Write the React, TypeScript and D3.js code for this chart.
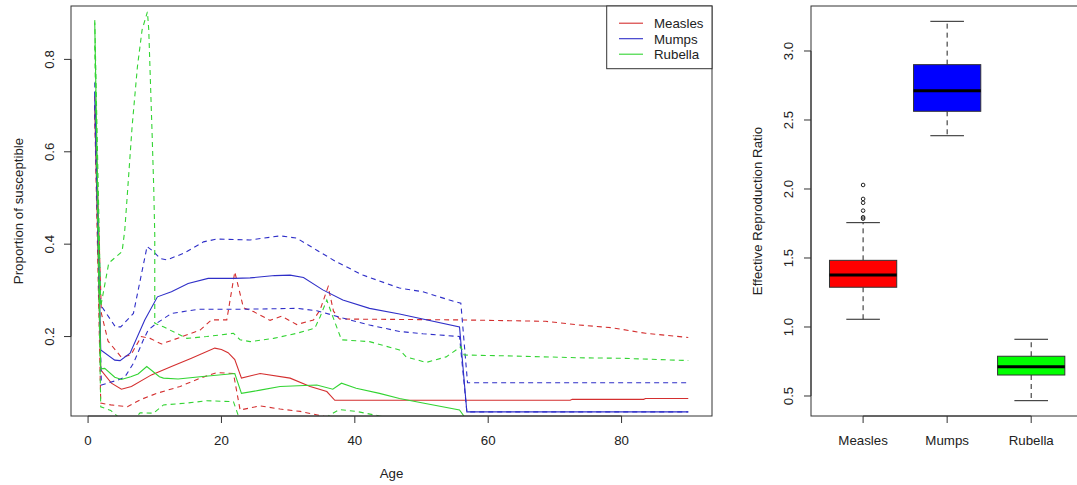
import React from "react";
import * as d3 from "d3";

// ---------- Left panel data: proportion susceptible by age ----------
type Pt = [number, number];

const measlesMean: Pt[] = [
  [1, 0.7], [1.9, 0.128], [3.5, 0.099], [5, 0.086], [6.5, 0.092], [9.5, 0.117], [12.5, 0.135],
  [15.5, 0.153], [19, 0.175], [20, 0.172], [21, 0.165], [22, 0.15], [23, 0.11], [25.8, 0.12],
  [30.3, 0.11], [33.3, 0.092], [35.8, 0.081], [37, 0.062], [72.3, 0.062], [72.6, 0.064],
  [83.3, 0.064], [83.6, 0.066], [90, 0.066],
];
const measlesHi: Pt[] = [
  [1, 0.72], [2, 0.25], [3, 0.19], [5, 0.155], [6.4, 0.16], [8, 0.2], [9.3, 0.196], [11, 0.184],
  [12.8, 0.193], [16.8, 0.214], [18.5, 0.236], [20.8, 0.236], [22, 0.34], [23.3, 0.262],
  [24.8, 0.254], [27.3, 0.235], [29, 0.244], [31.3, 0.226], [33.8, 0.236], [34.8, 0.258],
  [36, 0.308], [36.8, 0.255], [37.7, 0.238], [56, 0.236], [68.6, 0.233], [73.6, 0.225],
  [78.6, 0.219], [83.6, 0.207], [90, 0.198],
];
const measlesLo: Pt[] = [
  [1, 0.68], [1.9, 0.056], [3.4, 0.052], [5.9, 0.048], [7.8, 0.063], [10.3, 0.077], [13.8, 0.092],
  [16.8, 0.11], [19.3, 0.122], [21.8, 0.12], [22.8, 0.041], [25.8, 0.05], [28.8, 0.043],
  [31.8, 0.038], [35.2, 0.028], [38, 0.015], [90, 0.012],
];

const mumpsMean: Pt[] = [
  [1, 0.73], [1.9, 0.171], [4, 0.149], [4.8, 0.148], [6.3, 0.164], [8.5, 0.236], [10.4, 0.286],
  [12.5, 0.297], [15, 0.315], [18, 0.326], [22, 0.326], [24.3, 0.327], [28, 0.332], [30.3, 0.333],
  [32.3, 0.328], [35.2, 0.301], [38.2, 0.279], [42.2, 0.261], [46.7, 0.249], [55.7, 0.221],
  [56.8, 0.037], [90, 0.037],
];
const mumpsHi: Pt[] = [
  [1, 0.75], [1.9, 0.268], [4.1, 0.221], [4.9, 0.221], [6.8, 0.25], [8.85, 0.395], [9.8, 0.384],
  [10.8, 0.369], [11.8, 0.366], [14.3, 0.38], [17.3, 0.405], [19.3, 0.411], [24.3, 0.409],
  [28.8, 0.418], [31.3, 0.413], [34.3, 0.387], [37.2, 0.362], [41.2, 0.333], [46.7, 0.305],
  [50.2, 0.297], [54.2, 0.279], [55.9, 0.272], [56.9, 0.1], [90, 0.1],
];
const mumpsLo: Pt[] = [
  [1, 0.7], [2, 0.095], [4.5, 0.106], [5.5, 0.112], [6.8, 0.142], [8.3, 0.193], [9, 0.214],
  [10.3, 0.229], [12.5, 0.25], [16.5, 0.259], [22.4, 0.259], [27.3, 0.26], [31.3, 0.261],
  [34.3, 0.256], [38.2, 0.24], [42.2, 0.225], [46.7, 0.211], [50.2, 0.206], [55.7, 0.2],
  [56.8, 0.037], [90, 0.037],
];

const rubellaMean: Pt[] = [
  [1, 0.88], [1.9, 0.13], [2.5, 0.131], [4, 0.112], [5, 0.107], [6.4, 0.113], [7.5, 0.119],
  [8.8, 0.135], [10.7, 0.113], [11.3, 0.11], [13.5, 0.108], [16.8, 0.113], [22, 0.12], [23, 0.077],
  [25.8, 0.084], [28.8, 0.092], [34.3, 0.095], [36.7, 0.086], [38, 0.099], [40.2, 0.088],
  [43.7, 0.077], [46.7, 0.066], [50.2, 0.056], [55.7, 0.041], [56.4, 0.027], [57, 0.015],
  [90, 0.012],
];
const rubellaHi: Pt[] = [
  [1, 0.885], [1.9, 0.265], [3.1, 0.359], [5.1, 0.384], [5.5, 0.43], [5.9, 0.51], [6.6, 0.654],
  [7.4, 0.784], [8.1, 0.864], [8.9, 0.903], [9.1, 0.864], [9.6, 0.64], [9.85, 0.52], [10, 0.42],
  [10, 0.229], [11.3, 0.221], [14.8, 0.196], [17.8, 0.2], [21.8, 0.207], [22.8, 0.193],
  [24.3, 0.189], [27.8, 0.196], [31.3, 0.207], [34, 0.218], [34.8, 0.243], [35.8, 0.279],
  [36.7, 0.243], [38, 0.193], [42.2, 0.189], [46.7, 0.171], [47.7, 0.156], [50.7, 0.144],
  [53.7, 0.156], [55.9, 0.178], [56.4, 0.16], [63.6, 0.158], [73.6, 0.154], [80, 0.153],
  [90, 0.148],
];
const rubellaLo: Pt[] = [
  [1, 0.83], [1.9, 0.048], [3.4, 0.04], [5, 0.02], [7, 0.022], [7.8, 0.035], [9.8, 0.034],
  [11.3, 0.052], [14.8, 0.056], [17.8, 0.061], [21.8, 0.059], [22.5, 0.03], [23.5, 0.012],
  [35, 0.012], [36.2, 0.03], [37.7, 0.042], [40.2, 0.038], [43.7, 0.028], [47, 0.02], [56, 0.012],
  [90, 0.012],
];

const diseases = ["Measles", "Mumps", "Rubella"];
const lineColors = ["#d42f2f", "#2f2fc8", "#33d433"];
const ageTicks = [0, 20, 40, 60, 80];
const propTicks = [0.2, 0.4, 0.6, 0.8];

// ---------- Right panel data: effective reproduction ratio ----------
const boxQ1 = [1.288, 2.563, 0.652];
const boxMedian = [1.377, 2.712, 0.712];
const boxQ3 = [1.483, 2.901, 0.788];
const whiskerLo = [1.056, 2.386, 0.466];
const whiskerHi = [1.756, 3.215, 0.911];
const measlesOutliers = [2.029, 1.928, 1.9, 1.843, 1.795, 1.785];
const boxFills = ["#ff0000", "#0000ff", "#00ff00"];
const rTicks = [0.5, 1.0, 1.5, 2.0, 2.5, 3.0];

const FONT = "'Liberation Sans', Arial, Helvetica, sans-serif";
const TXT = "#222";
const FS = 13.3;

export default function App() {
  // left panel geometry
  const L = { x0: 71, x1: 712, y0: 6, y1: 416 };
  const x = d3.scaleLinear().domain([-2.56, 93.56]).range([L.x0, L.x1]);
  const y = d3.scaleLinear().domain([0.028, 0.9156]).range([L.y1, L.y0]);
  const line = d3
    .line<Pt>()
    .x((d) => x(d[0]))
    .y((d) => y(d[1]));

  const series = [
    { d: measlesMean, c: 0, dash: false },
    { d: measlesHi, c: 0, dash: true },
    { d: measlesLo, c: 0, dash: true },
    { d: mumpsMean, c: 1, dash: false },
    { d: mumpsHi, c: 1, dash: true },
    { d: mumpsLo, c: 1, dash: true },
    { d: rubellaMean, c: 2, dash: false },
    { d: rubellaHi, c: 2, dash: true },
    { d: rubellaLo, c: 2, dash: true },
  ];

  // right panel geometry
  const R = { x0: 811, x1: 1083.3, y0: 6, y1: 416 };
  const bx = d3.scaleLinear().domain([0.38, 3.62]).range([R.x0, R.x1]);
  const by = d3.scaleLinear().domain([0.355, 3.326]).range([R.y1, R.y0]);
  const halfBox = (bx(1.4) - bx(1.0)) ;
  const halfStaple = halfBox / 2;

  return (
    <div style={{ position: "absolute", left: 0, top: 0 }}>
      <svg width={1077} height={485} style={{ display: "block", background: "#fff" }} fontFamily={FONT}>
        <defs>
          <clipPath id="lclip">
            <rect x={L.x0} y={L.y0} width={L.x1 - L.x0} height={L.y1 - L.y0} />
          </clipPath>
        </defs>

        {/* ---- Left panel ---- */}
        <g clipPath="url(#lclip)">
          {series.map((s, i) => (
            <path
              key={i}
              d={line(s.d) || ""}
              fill="none"
              stroke={lineColors[s.c]}
              strokeWidth={1.1}
              strokeDasharray={s.dash ? "5,4" : undefined}
            />
          ))}
        </g>
        <rect x={L.x0} y={L.y0} width={L.x1 - L.x0} height={L.y1 - L.y0} fill="none" stroke="#333" strokeWidth={1} />

        {/* x axis */}
        <line x1={x(ageTicks[0])} x2={x(ageTicks[ageTicks.length - 1])} y1={L.y1} y2={L.y1} stroke="#333" />
        {ageTicks.map((t) => (
          <g key={t}>
            <line x1={x(t)} x2={x(t)} y1={L.y1} y2={L.y1 + 7} stroke="#333" />
            <text x={x(t)} y={445} fontSize={FS} textAnchor="middle" fill={TXT}>
              {t}
            </text>
          </g>
        ))}
        <text x={(L.x0 + L.x1) / 2} y={477.5} fontSize={FS} textAnchor="middle" fill={TXT}>
          Age
        </text>

        {/* y axis */}
        <line x1={L.x0} x2={L.x0} y1={y(propTicks[0])} y2={y(propTicks[propTicks.length - 1])} stroke="#333" />
        {propTicks.map((t) => (
          <g key={t}>
            <line x1={L.x0 - 7} x2={L.x0} y1={y(t)} y2={y(t)} stroke="#333" />
            <text
              transform={`translate(53.5,${y(t)}) rotate(-90)`}
              fontSize={FS}
              textAnchor="middle"
              fill={TXT}
            >
              {t.toFixed(1)}
            </text>
          </g>
        ))}
        <text transform={`translate(23,${(L.y0 + L.y1) / 2}) rotate(-90)`} fontSize={FS} textAnchor="middle" fill={TXT}>
          Proportion of susceptible
        </text>

        {/* legend */}
        <rect x={606.7} y={L.y0} width={L.x1 - 606.7} height={62.7} fill="#fff" stroke="#333" />
        {diseases.map((name, i) => {
          const cy = 23.2 + i * 15.5;
          return (
            <g key={name}>
              <line x1={619} x2={643} y1={cy} y2={cy} stroke={lineColors[i]} strokeWidth={1.1} />
              <text x={654} y={cy + 4.8} fontSize={FS} fill={TXT}>
                {name}
              </text>
            </g>
          );
        })}

        {/* ---- Right panel ---- */}
        <rect x={R.x0} y={R.y0} width={R.x1 - R.x0} height={R.y1 - R.y0} fill="none" stroke="#333" />
        {diseases.map((name, i) => {
          const cx = bx(i + 1);
          return (
            <g key={name}>
              {/* whiskers */}
              <line x1={cx} x2={cx} y1={by(boxQ3[i])} y2={by(whiskerHi[i])} stroke="#222" strokeDasharray="5,4" />
              <line x1={cx} x2={cx} y1={by(boxQ1[i])} y2={by(whiskerLo[i])} stroke="#222" strokeDasharray="5,4" />
              <line x1={cx - halfStaple} x2={cx + halfStaple} y1={by(whiskerHi[i])} y2={by(whiskerHi[i])} stroke="#222" />
              <line x1={cx - halfStaple} x2={cx + halfStaple} y1={by(whiskerLo[i])} y2={by(whiskerLo[i])} stroke="#222" />
              {/* box */}
              <rect
                x={cx - halfBox}
                y={by(boxQ3[i])}
                width={halfBox * 2}
                height={by(boxQ1[i]) - by(boxQ3[i])}
                fill={boxFills[i]}
                stroke="#333"
              />
              <line x1={cx - halfBox} x2={cx + halfBox} y1={by(boxMedian[i])} y2={by(boxMedian[i])} stroke="#000" strokeWidth={3} />
              {/* x tick and label */}
              <line x1={cx} x2={cx} y1={R.y1} y2={R.y1 + 7} stroke="#333" />
              <text x={cx} y={445} fontSize={FS} textAnchor="middle" fill={TXT}>
                {name}
              </text>
            </g>
          );
        })}
        {measlesOutliers.map((v, j) => (
          <circle key={j} cx={bx(1)} cy={by(v)} r={1.8} fill="none" stroke="#222" strokeWidth={1} />
        ))}
        <line x1={bx(1)} x2={bx(3)} y1={R.y1} y2={R.y1} stroke="#333" />

        <line x1={R.x0} x2={R.x0} y1={by(rTicks[0])} y2={by(rTicks[rTicks.length - 1])} stroke="#333" />
        {rTicks.map((t) => (
          <g key={t}>
            <line x1={R.x0 - 7} x2={R.x0} y1={by(t)} y2={by(t)} stroke="#333" />
            <text transform={`translate(793,${by(t)}) rotate(-90)`} fontSize={FS} textAnchor="middle" fill={TXT}>
              {t.toFixed(1)}
            </text>
          </g>
        ))}
        <text transform={`translate(762,${(R.y0 + R.y1) / 2}) rotate(-90)`} fontSize={FS} textAnchor="middle" fill={TXT}>
          Effective Reproduction Ratio
        </text>
      </svg>
    </div>
  );
}
